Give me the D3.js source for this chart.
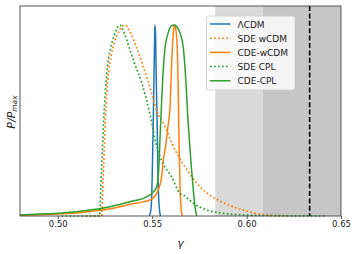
<!DOCTYPE html>
<html lang="en">
<head>
<meta charset="UTF-8">
<title>gamma posteriors</title>
<script src="https://cdn.jsdelivr.net/npm/d3@7/dist/d3.min.js"></script>
<style>
  body { margin: 0; background: #fff; }
  text { font-family: "DejaVu Sans", sans-serif; }
</style>
</head>
<body>
<script>
// growth index gamma vs normalised posterior
var xTicks = [0.50, 0.55, 0.60, 0.65];
var bandLight = [0.5834, 0.6085];
var bandDark = [0.6085, 0.65];
var dashedX = 0.6334;

var lcdm = [[0.5485,0],[0.5494,0.04],[0.5500,0.2],[0.5505,0.45],[0.551,0.75],[0.5513,0.95],[0.5515,1.0],[0.5518,0.95],[0.5521,0.75],[0.5526,0.5],[0.5531,0.2],[0.5537,0.05],[0.5544,0]];
var sdeW = [[0.515,0],[0.5233,0],[0.5238,0.15],[0.5245,0.32],[0.5252,0.5],[0.526,0.65],[0.527,0.76],[0.5283,0.84],[0.530,0.91],[0.5325,0.97],[0.5356,1.0],[0.538,0.97],[0.5418,0.88],[0.545,0.79],[0.548,0.70],[0.5533,0.53],[0.5568,0.47],[0.5605,0.38],[0.5647,0.30],[0.570,0.22],[0.5753,0.153],[0.5805,0.11],[0.5859,0.078],[0.593,0.048],[0.600,0.026],[0.6055,0.013],[0.6107,0.005],[0.617,0.001],[0.623,0]];
var cdeW = [[0.48,0.004],[0.49,0.007],[0.50,0.011],[0.51,0.016],[0.5224,0.03],[0.53,0.042],[0.5383,0.061],[0.545,0.074],[0.5489,0.084],[0.5515,0.105],[0.5532,0.136],[0.555,0.205],[0.5559,0.29],[0.5573,0.38],[0.5585,0.48],[0.5594,0.56],[0.5604,0.82],[0.5612,0.96],[0.5619,1.0],[0.5626,0.97],[0.5633,0.88],[0.5638,0.65],[0.5643,0.35],[0.5648,0.14],[0.5654,0.03],[0.566,0]];
var sdeCpl = [[0.502,0],[0.5222,0],[0.5228,0.15],[0.5235,0.32],[0.5243,0.5],[0.5252,0.65],[0.5263,0.78],[0.5278,0.87],[0.530,0.95],[0.533,1.0],[0.5355,0.95],[0.5379,0.88],[0.541,0.79],[0.5444,0.70],[0.5489,0.53],[0.552,0.38],[0.555,0.29],[0.5603,0.205],[0.5647,0.12],[0.5665,0.11],[0.572,0.065],[0.5789,0.031],[0.587,0.015],[0.60,0.005],[0.615,0.002],[0.6414,0]];
var cdeCpl = [[0.48,0.005],[0.49,0.01],[0.50,0.015],[0.51,0.022],[0.517,0.031],[0.5277,0.049],[0.5383,0.075],[0.5471,0.10],[0.5505,0.125],[0.5524,0.153],[0.5535,0.25],[0.5542,0.42],[0.5547,0.53],[0.5556,0.72],[0.5568,0.88],[0.5585,0.96],[0.560,0.995],[0.5617,1.0],[0.5632,0.99],[0.5647,0.96],[0.5665,0.88],[0.568,0.68],[0.5688,0.53],[0.5697,0.40],[0.5708,0.25],[0.5718,0.136],[0.5728,0.04],[0.5736,0]];

var series = [
  { name: "\u039BCDM", data: lcdm, color: "#1f77b4", dash: null },
  { name: "SDE wCDM", data: sdeW, color: "#ff7f0e", dash: "1.7,2.3" },
  { name: "CDE-wCDM", data: cdeW, color: "#ff7f0e", dash: null },
  { name: "SDE CPL", data: sdeCpl, color: "#2ca02c", dash: "1.7,2.3" },
  { name: "CDE-CPL", data: cdeCpl, color: "#2ca02c", dash: null }
];

var w = 357, h = 254;
var margin = { left: 20, right: 16, top: 6, bottom: 38 };

var svg = d3.select("body").append("svg")
  .attr("width", w).attr("height", h);

var x = d3.scaleLinear().domain([0.48, 0.65]).range([margin.left, w - margin.right]);
var y = d3.scaleLinear().domain([0, 1.1]).range([h - margin.bottom, margin.top]);

// shaded bands
svg.append("rect")
  .attr("x", x(bandLight[0])).attr("y", y(1.1))
  .attr("width", x(bandLight[1]) - x(bandLight[0]))
  .attr("height", y(0) - y(1.1))
  .attr("fill", "#d9d9d9");
svg.append("rect")
  .attr("x", x(bandDark[0])).attr("y", y(1.1))
  .attr("width", x(bandDark[1]) - x(bandDark[0]))
  .attr("height", y(0) - y(1.1))
  .attr("fill", "#c6c6c6");

var line = d3.line()
  .x(function(d) { return x(d[0]); })
  .y(function(d) { return y(d[1]); })
  .curve(d3.curveMonotoneX);

svg.append("defs").append("clipPath").attr("id", "clip")
  .append("rect")
  .attr("x", margin.left).attr("y", margin.top)
  .attr("width", x(0.65) - x(0.48)).attr("height", y(0) - y(1.1) + 1);

var plot = svg.append("g").attr("clip-path", "url(#clip)");

plot.selectAll("path.curve")
  .data(series)
  .enter()
  .append("path")
  .attr("class", "curve")
  .attr("d", function(d) { return line(d.data); })
  .attr("fill", "none")
  .attr("stroke", function(d) { return d.color; })
  .attr("stroke-width", function(d) { return d.dash ? 1.7 : 1.5; })
  .attr("stroke-dasharray", function(d) { return d.dash; });

// vertical dashed marker
plot.append("line")
  .attr("x1", x(dashedX)).attr("x2", x(dashedX))
  .attr("y1", y(1.1)).attr("y2", y(0))
  .attr("stroke", "#000")
  .attr("stroke-width", 1.6)
  .attr("stroke-dasharray", "5,2.4");

// axes frame
svg.append("rect")
  .attr("x", x(0.48)).attr("y", y(1.1))
  .attr("width", x(0.65) - x(0.48)).attr("height", y(0) - y(1.1))
  .attr("fill", "none").attr("stroke", "#444").attr("stroke-width", 0.9);

var xAxis = svg.append("g")
  .attr("transform", "translate(0," + y(0) + ")")
  .call(d3.axisBottom(x).tickValues(xTicks).tickFormat(d3.format(".2f")).tickSize(3).tickPadding(2));
xAxis.select(".domain").remove();
xAxis.selectAll("line").attr("stroke", "#444").attr("stroke-width", 0.9);
xAxis.selectAll("text").attr("font-size", 8.5).attr("fill", "#222")
  .style("font-family", "DejaVu Sans, sans-serif");

svg.append("text")
  .attr("x", x(0.565)).attr("y", 247)
  .attr("text-anchor", "middle")
  .attr("font-size", 11).attr("font-style", "italic").attr("fill", "#222")
  .text("\u03B3");

var yl = svg.append("text")
  .attr("transform", "translate(15,112) rotate(-90)")
  .attr("text-anchor", "middle")
  .attr("font-size", 11).attr("font-style", "italic").attr("fill", "#222");
yl.append("tspan").text("P/P");
yl.append("tspan").attr("font-size", 7.5).attr("dy", 2).text("max");

// legend
var lg = svg.append("g");
lg.append("rect")
  .attr("x", 206.5).attr("y", 16).attr("width", 88.5).attr("height", 74)
  .attr("rx", 2).attr("fill", "#fff").attr("fill-opacity", 0.8)
  .attr("stroke", "#ccc").attr("stroke-width", 0.8);
var items = lg.selectAll("g.item")
  .data(series)
  .enter()
  .append("g")
  .attr("class", "item")
  .attr("transform", function(d, i) { return "translate(0," + (24 + i * 14.2) + ")"; });
items.append("line")
  .attr("x1", 210).attr("x2", 230.5).attr("y1", 0).attr("y2", 0)
  .attr("stroke", function(d) { return d.color; })
  .attr("stroke-width", 1.5)
  .attr("stroke-dasharray", function(d) { return d.dash; });
items.append("text")
  .attr("x", 237.5).attr("y", 3.5)
  .attr("font-size", 9).attr("fill", "#222")
  .text(function(d) { return d.name; });
</script>
</body>
</html>
